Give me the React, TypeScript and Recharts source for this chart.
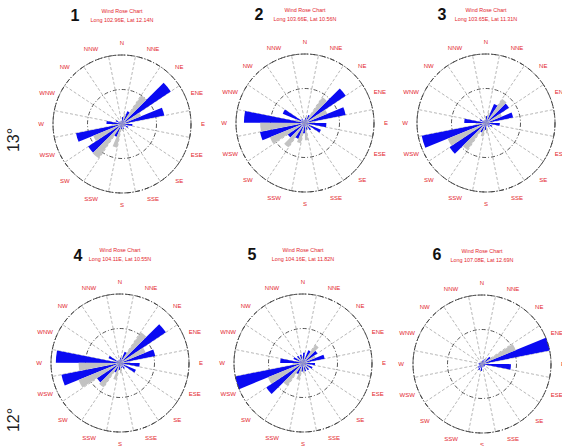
import { RadialBarChart, RadialBar, PolarAngleAxis, PolarRadiusAxis, PolarGrid } from 'recharts'

const directions = ['N', 'NNE', 'NE', 'ENE', 'E', 'ESE', 'SE', 'SSE', 'S', 'SSW', 'SW', 'WSW', 'W', 'WNW', 'NW', 'NNW']

// frequency per direction (%), grey and blue series
const grey1 = [1, 3, 10, 6, 2, 1, 1, 1, 2, 7, 12, 9, 3, 1, 1, 1]
const blue1 = [2, 4, 17, 12.5, 3, 2, 1, 1.5, 1.5, 4, 11.8, 13.6, 4.5, 2, 1, 1]
const grey2 = [1, 2, 9, 7, 3, 2, 2, 2, 5, 6, 8.5, 11, 13, 3, 1, 1]
const blue2 = [1.5, 2.5, 14.2, 12, 6.2, 5, 2.5, 2, 3, 5, 6, 13.3, 17.7, 7, 1.5, 1]
const grey3 = [2, 3, 8.4, 5, 2, 1, 1, 1, 3, 4, 9.5, 12, 3, 1, 1, 1]
const blue3 = [2, 6, 8, 8, 4, 2, 1.5, 1, 2, 3, 12.7, 19, 6.3, 2, 1, 1]
const grey4 = [1, 2, 10.8, 8, 3, 2, 1, 1, 3, 5, 8.5, 13, 12, 2, 1, 1]
const blue4 = [1.5, 3.5, 16, 10.4, 5.7, 5, 2, 1.5, 2, 3, 8, 17.3, 18.6, 3.6, 1, 1]
const grey5 = [2, 2, 6.4, 4, 2, 2, 2, 2, 3, 5, 8, 11, 3, 2, 2, 2]
const blue5 = [3, 4, 5, 6.4, 3.5, 3, 2.5, 2.5, 2.5, 3.5, 12.8, 20, 6.6, 3, 2.5, 2.5]
const grey6 = [0.5, 0.5, 2, 10.6, 2, 0.5, 0.5, 0.5, 1, 1, 0.5, 0.5, 0.3, 0.3, 0.3, 0.3]
const blue6 = [1, 1.5, 3, 20, 8.4, 1, 1, 1, 2, 2, 1.5, 1, 1, 0.5, 0.5, 0.5]

const panelNumbers = ['1', '2', '3', '4', '5', '6']
const chartTitle = 'Wind Rose Chart'
const stationCoords = [
  'Long 102.96E, Lat 12.14N',
  'Long 103.66E, Lat 10.56N',
  'Long 103.65E, Lat 11.31N',
  'Long 104.11E, Lat 10.55N',
  'Long 104.16E, Lat 11.82N',
  'Long 107.08E, Lat 12.69N',
]
const rowLabels = ['13°', '12°']

const greys = [grey1, grey2, grey3, grey4, grey5, grey6]
const blues = [blue1, blue2, blue3, blue4, blue5, blue6]

// layout
const W = 184
const H = 200
const R = 69
const centers = [
  [122, 124],
  [305, 123],
  [486, 123],
  [120, 363],
  [303, 363],
  [482, 364],
]
const numberPos = [
  [75, 15],
  [259, 14],
  [442, 14],
  [78, 255],
  [252, 254],
  [437, 254],
]
const gridAngles = Array.from({ length: 16 }, (_, i) => 11.25 + i * 22.5)
const RED = '#e3262d'
const HALF = (11.25 * Math.PI) / 180

// axis ticks sit on the sector edge; turn them back half a sector so they sit mid-sector
const DirTick = (props: any) => {
  const { x, y, cx, cy, payload } = props
  let tx = x
  let ty = y
  if (typeof cx === 'number' && typeof cy === 'number') {
    const dx = x - cx
    const dy = y - cy
    tx = cx + dx * Math.cos(HALF) + dy * Math.sin(HALF)
    ty = cy - dx * Math.sin(HALF) + dy * Math.cos(HALF)
  }
  return (
    <text
      x={tx}
      y={ty}
      textAnchor="middle"
      dominantBaseline="central"
      fontSize={6}
      fontFamily="Arial, 'Liberation Sans', sans-serif"
      fill={RED}
    >
      {payload.value}
    </text>
  )
}

function Rose({ grey, blue, cx, cy }: { grey: number[]; blue: number[]; cx: number; cy: number }) {
  const data = directions.map((dir, i) => ({ dir, grey: grey[i], blue: blue[i] }))
  return (
    <div style={{ position: 'absolute', left: cx - W / 2, top: cy - H / 2 }}>
      <RadialBarChart
        width={W}
        height={H}
        cx={W / 2}
        cy={H / 2}
        data={data}
        layout="centric"
        innerRadius={0}
        outerRadius={R}
        startAngle={78.75}
        endAngle={-281.25}
        barCategoryGap={0}
        barGap={0}
      >
        <PolarGrid gridType="circle" polarAngles={gridAngles} polarRadius={[]} stroke="#b8b8b8" strokeDasharray="3 2" />
        <PolarGrid gridType="circle" radialLines={false} stroke="#555" strokeDasharray="4 2 1 2" />
        <PolarAngleAxis
          type="category"
          dataKey="dir"
          tickSize={12}
          tickLine={false}
          axisLineType="circle"
          axisLine={{ stroke: '#444', strokeDasharray: '5 2 1 2' }}
          tick={DirTick}
        />
        <PolarRadiusAxis type="number" domain={[0, 20]} ticks={[0, 10, 20]} tick={false} axisLine={false} />
        <RadialBar dataKey="blue" fill="#0a0af2" isAnimationActive={false} />
        <RadialBar dataKey="grey" fill="#c2c2c2" isAnimationActive={false} />
      </RadialBarChart>
    </div>
  )
}

export default function App() {
  return (
    <div style={{ position: 'absolute', left: 0, top: 0, width: 562, height: 446, overflow: 'hidden', background: '#fff' }}>
      {centers.map(([cx, cy], i) => (
        <Rose key={i} grey={greys[i]} blue={blues[i]} cx={cx} cy={cy} />
      ))}
      <svg width={562} height={446} style={{ position: 'absolute', left: 0, top: 0, pointerEvents: 'none' }}>
        {centers.map(([cx, cy], i) => (
          <g key={i} fontFamily="Arial, 'Liberation Sans', sans-serif">
            <text
              x={numberPos[i][0]}
              y={numberPos[i][1]}
              textAnchor="middle"
              dominantBaseline="central"
              fontSize={16}
              fontWeight="bold"
              fill="#111"
            >
              {panelNumbers[i]}
            </text>
            <text x={cx} y={cy - 113} textAnchor="middle" dominantBaseline="central" fontSize={5.4} fill={RED}>
              {chartTitle}
            </text>
            <text x={cx} y={cy - 104} textAnchor="middle" dominantBaseline="central" fontSize={5.4} fill={RED}>
              {stationCoords[i]}
            </text>
          </g>
        ))}
        <text
          x={13}
          y={140}
          transform="rotate(-90 13 140)"
          textAnchor="middle"
          dominantBaseline="central"
          fontSize={16}
          fontFamily="Arial, 'Liberation Sans', sans-serif"
          fill="#222"
        >
          {rowLabels[0]}
        </text>
        <text
          x={13}
          y={420}
          transform="rotate(-90 13 420)"
          textAnchor="middle"
          dominantBaseline="central"
          fontSize={16}
          fontFamily="Arial, 'Liberation Sans', sans-serif"
          fill="#222"
        >
          {rowLabels[1]}
        </text>
      </svg>
    </div>
  )
}
